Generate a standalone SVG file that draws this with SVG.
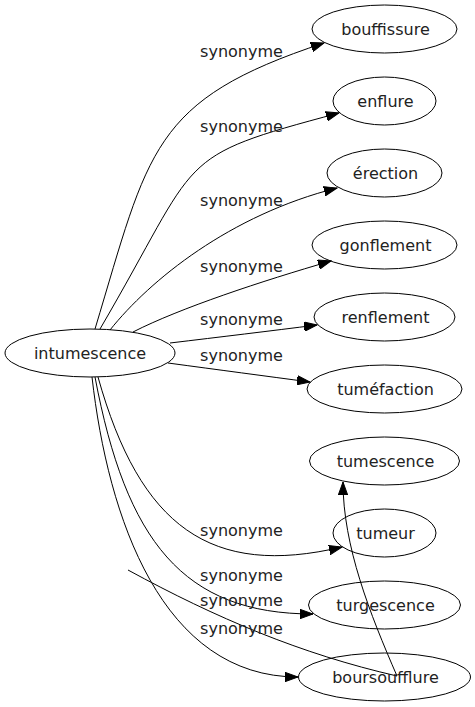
<svg xmlns="http://www.w3.org/2000/svg" width="475" height="707" viewBox="0 0 475 707">
<style>
.node ellipse{fill:none;stroke:#000;stroke-width:1}
.node text{font-family:"DejaVu Sans",sans-serif;font-size:16px;fill:#222;text-anchor:middle}
.edges path{fill:none;stroke:#000;stroke-width:1;marker-end:url(#arr)}
.edges path.noarrow{marker-end:none}
.lbl{font-family:"DejaVu Sans",sans-serif;font-size:16px;fill:#222;text-anchor:middle}
</style>
<defs>
<marker id="arr" markerUnits="userSpaceOnUse" markerWidth="14" markerHeight="10" refX="13" refY="5" orient="auto" viewBox="0 0 14 10">
<path d="M0,0.3 L13,5 L0,9.7 z" fill="#000" stroke="#000" stroke-width="1"/>
</marker>
</defs>
<rect x="0" y="0" width="475" height="707" fill="#fff"/>
<g id="edges" class="edges">
<path d="M95,329 C149,150 151,100 324,43"/>
<path d="M100,329 C203,153 171,158 339,113"/>
<path d="M110,330 C150,280 230,215 337,188"/>
<path d="M133,332 C180,308 262,281 331,261"/>
<path d="M170,343 C220,337 270,331 317,325"/>
<path d="M168,363 C220,370 265,376 310,382"/>
<path d="M98,377 C140,527 211,578 342,547"/>
<path d="M95,377 C126,541 183,614 313,614"/>
<path d="M92,377 C108,518 162,677 298,677"/>
<path d="M128,570 C216,618 301,654 397,676 C370,614 343,546 343,482"/>
</g>
<g id="edge-labels">
<text class="lbl" x="241.5" y="57">synonyme</text>
<text class="lbl" x="241.5" y="132">synonyme</text>
<text class="lbl" x="241.5" y="206">synonyme</text>
<text class="lbl" x="241.5" y="272">synonyme</text>
<text class="lbl" x="241.5" y="324.5">synonyme</text>
<text class="lbl" x="241.5" y="361">synonyme</text>
<text class="lbl" x="241.5" y="536">synonyme</text>
<text class="lbl" x="241.5" y="581">synonyme</text>
<text class="lbl" x="241.5" y="606">synonyme</text>
<text class="lbl" x="241.5" y="633.5">synonyme</text>
</g>
<g id="intumescence" class="node"><ellipse cx="90" cy="353" rx="85" ry="24"/><text x="90" y="358.5">intumescence</text></g>
<g id="bouffissure" class="node"><ellipse cx="384.5" cy="29" rx="72.5" ry="24"/><text x="385.5" y="34.5">bouffissure</text></g>
<g id="enflure" class="node"><ellipse cx="384.5" cy="101" rx="51.5" ry="24"/><text x="385.5" y="106.5">enflure</text></g>
<g id="erection" class="node"><ellipse cx="384.5" cy="173" rx="57.5" ry="24"/><text x="385.5" y="178.5">érection</text></g>
<g id="gonflement" class="node"><ellipse cx="384.5" cy="245" rx="72.5" ry="24"/><text x="385.5" y="250.5">gonflement</text></g>
<g id="renflement" class="node"><ellipse cx="384.5" cy="317" rx="70.5" ry="24"/><text x="385.5" y="322.5">renflement</text></g>
<g id="tumefaction" class="node"><ellipse cx="384.5" cy="389" rx="77.5" ry="24"/><text x="385.5" y="394.5">tuméfaction</text></g>
<g id="tumescence" class="node"><ellipse cx="384.5" cy="461" rx="75" ry="24"/><text x="385.5" y="466.5">tumescence</text></g>
<g id="tumeur" class="node"><ellipse cx="384.5" cy="533" rx="51.5" ry="24"/><text x="385.5" y="538.5">tumeur</text></g>
<g id="turgescence" class="node"><ellipse cx="384.5" cy="605" rx="76" ry="24"/><text x="385.5" y="610.5">turgescence</text></g>
<g id="boursoufflure" class="node"><ellipse cx="384.5" cy="677" rx="86" ry="24"/><text x="385.5" y="682.5">boursoufflure</text></g>
</svg>
